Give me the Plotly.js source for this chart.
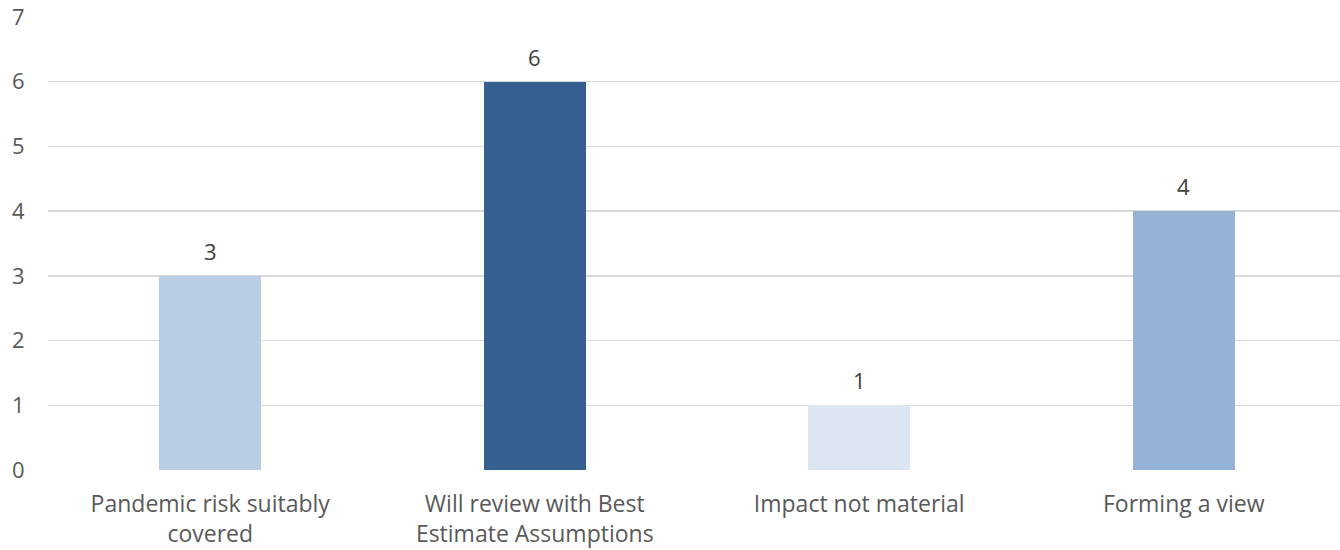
<!DOCTYPE html>
<html>
<head>
<meta charset="utf-8">
<script src="https://cdn.plot.ly/plotly-3.0.1.min.js"></script>
<style>html,body{margin:0;padding:0;background:#fff;}#chart{width:1340px;height:550px;}</style>
</head>
<body>
<div id="chart"></div>
<script>
const categories = ["Pandemic risk suitably covered", "Will review with Best Estimate Assumptions", "Impact not material", "Forming a view"];
const tickLabels = ["Pandemic risk suitably<br>covered", "Will review with Best<br>Estimate Assumptions", "Impact not material", "Forming a view"];
const values = [3, 6, 1, 4];
const barColors = ["#B9CDE5", "#376092", "#DCE6F2", "#95B3D7"];
const yTicks = [0, 1, 2, 3, 4, 5, 6, 7];

const font = "'Open Sans', Lato, sans-serif";

const trace = {
  type: "bar",
  x: categories,
  y: values,
  marker: {color: barColors},
  width: 0.314,
  hoverinfo: "skip"
};

const annotations = categories.map((c, i) => ({
  x: c, y: values[i], xref: "x", yref: "y",
  text: String(values[i]), showarrow: false,
  yanchor: "bottom", yshift: 8,
  font: {family: font, size: 22, color: "#404040"}
}));

const layout = {
  width: 1340, height: 550,
  margin: {l: 48, r: 0, t: 17, b: 80},
  paper_bgcolor: "#fff", plot_bgcolor: "#fff",
  showlegend: false,
  bargap: 0,
  xaxis: {
    type: "category",
    range: [-0.5, 3.4815],
    tickvals: categories,
    ticktext: tickLabels,
    showgrid: false, zeroline: false, showline: false,
    ticks: "outside", ticklen: 13, tickcolor: "rgba(0,0,0,0)",
    tickfont: {family: font, size: 23, color: "#595959"}
  },
  yaxis: {
    range: [0, 7],
    tickvals: yTicks,
    showgrid: true, gridcolor: "#D9D9D9", gridwidth: 1.5,
    zeroline: false, showline: false,
    ticks: "outside", ticklen: 18, tickcolor: "rgba(0,0,0,0)",
    tickfont: {family: font, size: 22, color: "#595959"}
  },
  annotations: annotations
};

Plotly.newPlot("chart", [trace], layout, {displayModeBar: false, staticPlot: true});
</script>
</body>
</html>
